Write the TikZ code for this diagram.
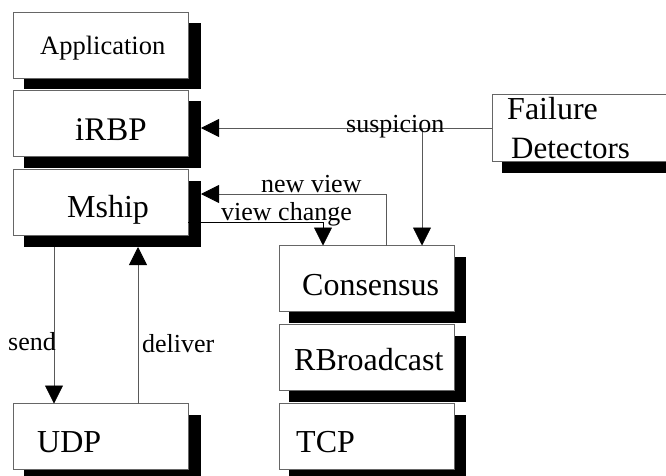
\documentclass[tikz,border=0pt]{standalone}
\usepackage{fontspec}
\setmainfont{Liberation Serif}
\usetikzlibrary{arrows.meta}
\tikzset{
  boxnode/.style={draw=black!60, line width=0.8pt, fill=white, minimum width=175pt, minimum height=66pt, inner sep=0pt, outer sep=0pt},
  shadownode/.style={fill=black, draw=none, minimum width=177pt, minimum height=66pt, inner sep=0pt, outer sep=0pt},
  big/.style={anchor=base west, inner sep=0pt, font=\fontsize{32}{32}\selectfont},
  mid/.style={anchor=base west, inner sep=0pt, font=\fontsize{26.5}{26.5}\selectfont},
  lab/.style={anchor=base west, inner sep=0pt, font=\fontsize{26}{26}\selectfont},
  conn/.style={draw=black!65, line width=0.8pt},
  arr/.style={conn, -{Triangle[length=18pt,width=18pt,color=black,fill=black]}},
}
\begin{document}
\begin{tikzpicture}[x=1pt,y=-1pt]
\useasboundingbox (0,0) rectangle (666,476);
\clip (0,0) rectangle (666,476);
% left column
\node[shadownode] (appS) at (112.5,56.5) {};
\node[boxnode] (app) at (100.5,45) {};
\node[shadownode] (irbpS) at (112.5,134.5) {};
\node[boxnode] (irbp) at (100.5,123) {};
\node[shadownode] (mshipS) at (112.5,214) {};
\node[boxnode] (mship) at (100.5,202.5) {};
\node[shadownode] (udpS) at (112.5,448) {};
\node[boxnode] (udp) at (100.5,436.5) {};
% right column
\node[shadownode] (consS) at (377.5,290) {};
\node[boxnode] (cons) at (366.5,278.5) {};
\node[shadownode] (rbcS) at (377.5,369) {};
\node[boxnode] (rbc) at (366.5,357.5) {};
\node[shadownode] (tcpS) at (377.5,448) {};
\node[boxnode] (tcp) at (366.5,436.5) {};
% failure detectors
\node[shadownode, minimum width=190pt, minimum height=12pt] (fdS) at (597,167) {};
\node[boxnode, minimum width=190pt, minimum height=67pt, anchor=north west] (fd) at (492,94) {};
% texts
\node[mid] (tapp) at (40,55) {Application};
\node[big, font=\fontsize{33}{33}\selectfont] (tirbp) at (75,140) {iRBP};
\node[big] (tmship) at (67,217) {Mship};
\node[big] (tudp) at (37,452) {UDP};
\node[big] (tcons) at (302,295) {Consensus};
\node[big] (trbc) at (294,370) {RBroadcast};
\node[big] (ttcp) at (296,452) {TCP};
\node[big] (tf) at (507,120) {Failure};
\node[big, font=\fontsize{31}{31}\selectfont] (td) at (511,158) {Detectors};
% connectors
\coordinate (c1) at (422,128);
\draw[arr] (fd.west |- c1) -- (irbpS.east |- c1);
\draw[arr] (c1) -- (c1 |- cons.north);
\coordinate (c2) at (386,194);
\draw[arr] (c2 |- cons.north) -- (c2) -- (mshipS.east |- c2);
\coordinate (c3) at (323,222);
\draw[arr, draw=black] (mship.east |- c3) -- (c3) -- (c3 |- cons.north);
\coordinate (c5) at (54,300);
\draw[arr] (c5 |- mshipS.south) -- (c5 |- udp.north);
\coordinate (c4) at (138,300);
\draw[arr] (c4 |- udp.north) -- (c4 |- mshipS.south);
% labels
\node[lab] (lsusp) at (346,132) {suspicion};
\node[lab] (lnew) at (261,192) {new view};
\node[lab] (lvc) at (221,220) {view change};
\node[lab] (lsend) at (8,350) {send};
\node[lab] (ldel) at (142,352) {deliver};
\end{tikzpicture}
\end{document}
